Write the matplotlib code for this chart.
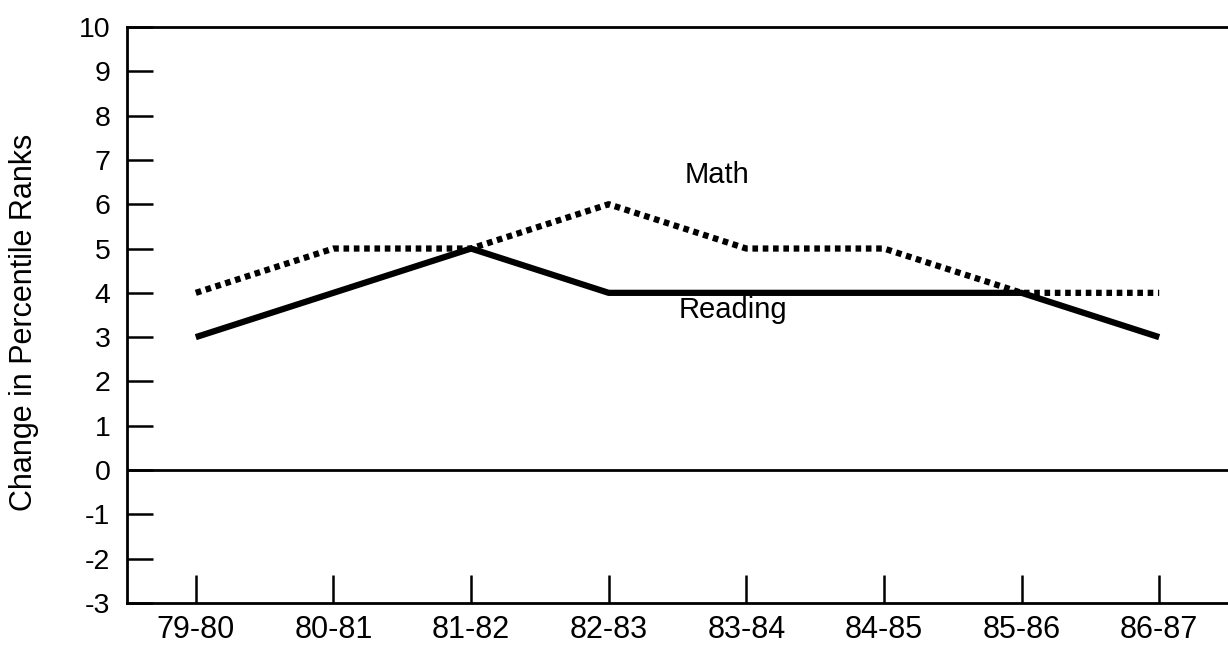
import matplotlib
matplotlib.use("Agg")
import matplotlib.pyplot as plt

plt.rcParams['font.family'] = ['Liberation Sans', 'DejaVu Sans']

categories = ["79-80", "80-81", "81-82", "82-83", "83-84", "84-85", "85-86", "86-87"]
math_vals = [4, 5, 5, 6, 5, 5, 4, 4]
reading_vals = [3, 4, 5, 4, 4, 4, 4, 3]
y_ticks = list(range(-3, 11))

fig = plt.figure(figsize=(12.28, 6.49), dpi=100)
ax = fig.add_axes([0.1034, 0.0709, 0.8966, 0.8875])

x = list(range(len(categories)))
ax.plot(x, math_vals, color='black', lw=4.5, linestyle=(0, (0.9, 0.75)),
        solid_capstyle='butt', dash_capstyle='butt')
ax.plot(x, reading_vals, color='black', lw=4.5, solid_capstyle='butt')
ax.axhline(0, color='black', lw=2)

ax.set_xlim(-0.5, 7.5)
ax.set_ylim(-3, 10)
ax.set_yticks(y_ticks)
ax.set_yticklabels([str(v) for v in y_ticks], fontsize=20.5)
ax.set_xticks(x)
ax.set_xticklabels(categories, fontsize=22)
ax.tick_params(axis='y', direction='in', length=19, width=1.8, pad=12)
ax.tick_params(axis='x', direction='in', length=20, width=1.8, pad=9)

ax.spines['right'].set_visible(False)
for s in ['left', 'top', 'bottom']:
    ax.spines[s].set_linewidth(2)

ax.text(3.79, 6.66, "Math", fontsize=21, ha='center', va='center')
ax.text(3.90, 3.61, "Reading", fontsize=21, ha='center', va='center')

fig.text(24 / 1228, 1 - 322 / 649, "Change in Percentile Ranks", fontsize=22,
         rotation=90, ha='center', va='center')

fig.savefig("out.png", dpi=100)
